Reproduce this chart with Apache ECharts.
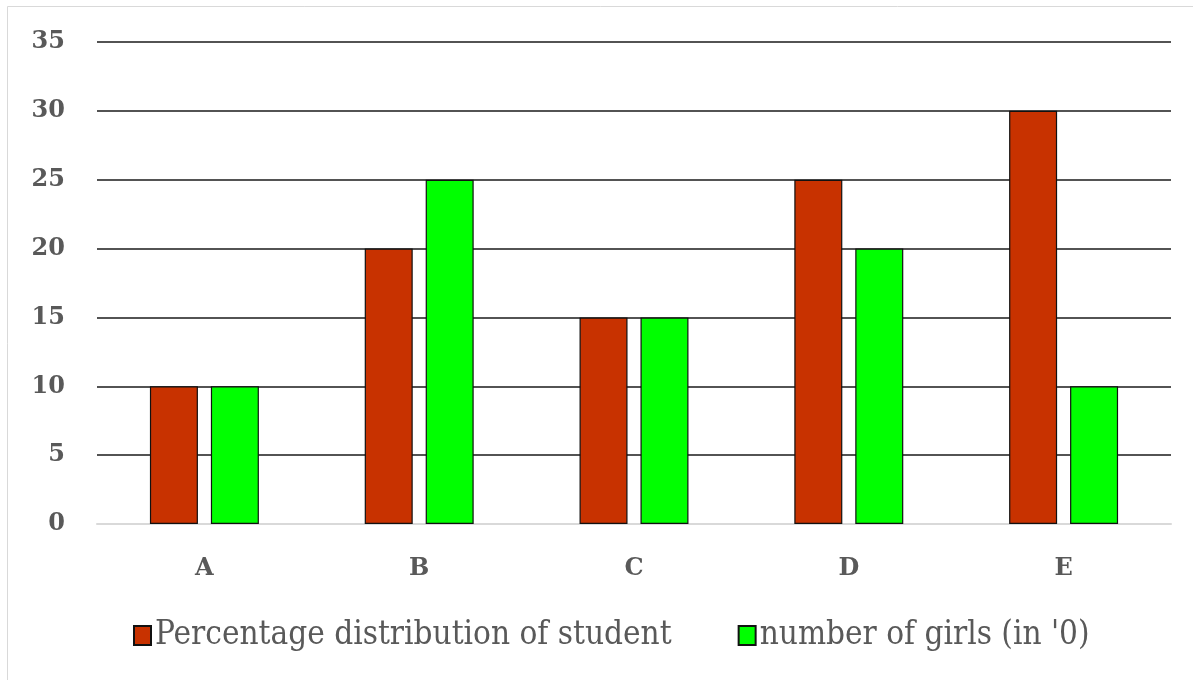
<!DOCTYPE html>
<html><head><meta charset="utf-8">
<script src="https://cdn.jsdelivr.net/npm/echarts@6/dist/echarts.min.js"></script>
<style>html,body{margin:0;padding:0;background:#fff;}#c{width:1193px;height:680px;}</style>
</head><body><div id="c"></div>
<script>
var categories = ['A','B','C','D','E'];
var seriesNames = ['Percentage distribution of student', "number of girls (in '0)"];
var percentValues = [10, 20, 15, 25, 30];
var girlsValues = [10, 25, 15, 20, 10];
var yTicks = {min: 0, max: 35, interval: 5};

var chart = echarts.init(document.getElementById('c'), null, {renderer: 'canvas'});
var serif = '"DejaVu Serif","Liberation Serif",serif';
var legendFont = '"DejaVu Serif Condensed","DejaVu Serif",serif';
chart.setOption({
  animation: false,
  backgroundColor: '#fff',
  graphic: [{type: 'rect', shape: {x: 7.5, y: 6.5, width: 1200, height: 700}, style: {fill: 'none', stroke: '#d9d9d9', lineWidth: 1}, silent: true, z: -1}],
  grid: {left: 97, right: 22, top: 42, bottom: 156},
  legend: {
    bottom: 23, left: 128, itemGap: 66, itemWidth: 17, itemHeight: 19,
    textStyle: {fontFamily: legendFont, fontSize: 33, color: '#595959', padding: [0,0,0,-1]},
    data: seriesNames.map(function(n){ return {name: n, icon: 'rect'}; })
  },
  xAxis: {
    type: 'category', data: categories,
    axisLine: {lineStyle: {color: '#d9d9d9', width: 2}},
    axisTick: {show: false},
    axisLabel: {fontFamily: serif, fontWeight: 'bold', fontSize: 24, color: '#595959', margin: 33}
  },
  yAxis: {
    type: 'value', min: yTicks.min, max: yTicks.max, interval: yTicks.interval,
    axisLine: {show: false}, axisTick: {show: false},
    axisLabel: {fontFamily: serif, fontWeight: 'bold', fontSize: 24, color: '#595959', margin: 32},
    splitLine: {lineStyle: {color: '#1a1a1a', width: 1.5}}
  },
  series: [
    {name: seriesNames[0], type: 'bar', data: percentValues, barWidth: 48, barGap: '27%',
     itemStyle: {color: '#c83200', borderColor: '#111', borderWidth: 1.2}},
    {name: seriesNames[1], type: 'bar', data: girlsValues, barWidth: 48,
     itemStyle: {color: '#00ff00', borderColor: '#111', borderWidth: 1.2}}
  ]
});
</script></body></html>
